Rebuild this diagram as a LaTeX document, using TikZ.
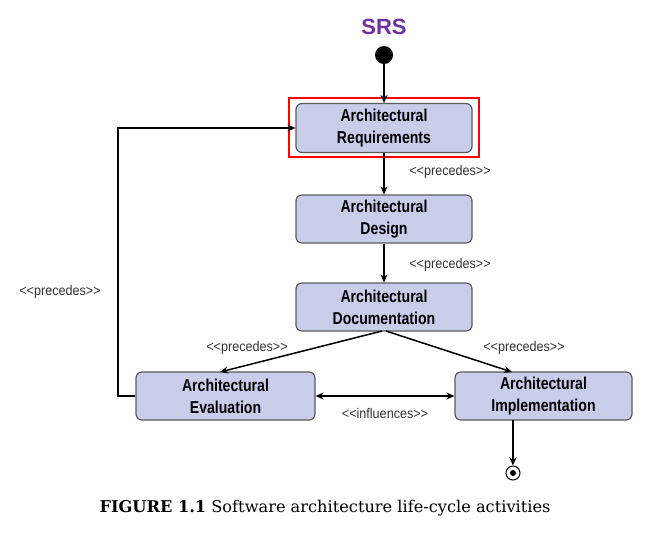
\documentclass[tikz,border=0pt]{standalone}
\usepackage{fontspec}
\setmainfont{DejaVu Serif}
\newfontfamily\boxfont[FakeStretch=0.82]{Liberation Sans}
\newfontfamily\lblfont[FakeStretch=0.9]{Liberation Sans}
\newfontfamily\srsfont{Liberation Sans}
\usetikzlibrary{arrows.meta}
\definecolor{boxfill}{HTML}{C8CEEA}
\definecolor{boxline}{HTML}{5A5A5A}
\definecolor{srspurple}{HTML}{7030A0}
\tikzset{
  actbox/.style={draw=boxline, line width=1.2pt, fill=boxfill, rounded corners=6pt,
    minimum width=176pt, minimum height=49pt, align=center, inner sep=0pt,
    font=\boxfont\bfseries\fontsize{17.2}{22}\selectfont},
  lbl/.style={font=\lblfont\fontsize{14}{16}\selectfont, text=black!80, inner sep=0pt},
  conn/.style={line width=1.5pt, -{Stealth[length=8pt,width=7pt]}},
}
\begin{document}
\begin{tikzpicture}[x=1pt,y=-1pt]
\useasboundingbox (0,0) rectangle (666,539);
\node[font=\srsfont\bfseries\fontsize{22}{24}\selectfont, text=srspurple] (srs) at (384,27) {SRS};
\node[circle, fill=black, minimum size=18pt, inner sep=0pt] (start) at (384,55) {};
\node[actbox] (req) at (384,128) {Architectural\\Requirements};
\node[draw=red, line width=1.4pt, minimum width=190pt, minimum height=59pt, inner sep=0pt] (hl) at (384,127.5) {};
\node[actbox, minimum height=48pt] (des) at (384,219) {Architectural\\Design};
\node[actbox, minimum height=48pt] (doc) at (384,307) {Architectural\\Documentation};
\node[actbox, minimum width=179pt, minimum height=48pt] (eva) at (225.5,396) {Architectural\\Evaluation};
\node[actbox, minimum width=177pt, minimum height=48pt] (imp) at (543.5,396) {Architectural\\Implementation};
\node[circle, draw=black, line width=1pt, minimum size=14pt, inner sep=0pt] (fin) at (513,473) {};
\fill (fin.center) circle (3pt);
\coordinate (fbB) at (118,396);
\coordinate (fbT) at (118,128);
\coordinate (docL) at (382,331);
\coordinate (docR) at (386,331);
\coordinate (evaT) at (220,372);
\coordinate (impT) at (512,372);
\coordinate (impB) at (513,420);
\draw[conn] (start) -- (req.north);
\draw[conn] (req) -- (des);
\draw[conn] (des) -- (doc);
\draw[conn] (docL) -- (evaT);
\draw[conn] (docR) -- (impT);
\draw[conn] (impB) -- (fin.north);
\draw[line width=1.5pt, {Stealth[length=8pt,width=7pt]}-{Stealth[length=8pt,width=7pt]}] (eva) -- (imp);
\draw[conn, rounded corners=0pt] (eva.west) -- (fbB) -- (fbT) -- (req.west);
\node[lbl] (l1) at (450,172) {<<precedes>>};
\node[lbl] (l2) at (450,265) {<<precedes>>};
\node[lbl] (l3) at (247,348) {<<precedes>>};
\node[lbl] (l4) at (524,348) {<<precedes>>};
\node[lbl] (l5) at (60,292) {<<precedes>>};
\node[lbl] (l6) at (385,413) {<<influences>>};
\node[font=\fontsize{16.2}{18}\selectfont, inner sep=0pt] (cap) at (325,508) {\textbf{FIGURE 1.1} Software architecture life-cycle activities};
\end{tikzpicture}
\end{document}
